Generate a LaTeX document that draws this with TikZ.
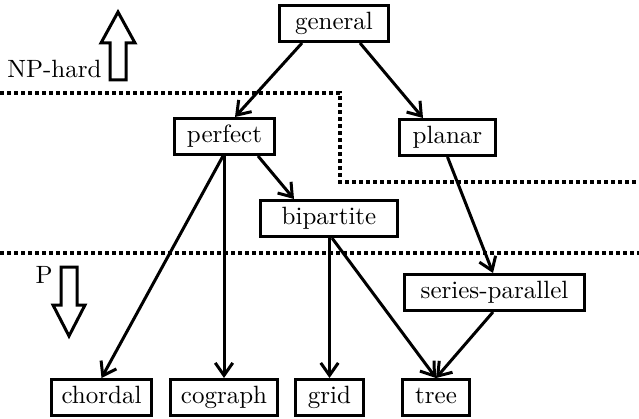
\documentclass[tikz,border=0pt]{standalone}
\usetikzlibrary{arrows.meta,calc}
\begin{document}
\begin{tikzpicture}[x=0.4pt,y=-0.4pt,
  cls/.style={draw,line width=1.2pt,inner xsep=0pt,inner ysep=0pt,
    minimum height=14.4pt,text height=7pt,text depth=2pt},
  edge/.style={line width=1.2pt,-{Straight Barb[length=5pt,width=7pt,line width=1.2pt]}},
  border/.style={line width=1.5pt,dash pattern=on 1.6pt off 1.2pt},
  bigarrow/.style={draw,line width=1.2pt,line join=miter}]
\useasboundingbox (0,0) rectangle (639,419);

% graph classes
\node[cls,minimum width=43.6pt] (general)  at (334,23.5)  {general};
\node[cls,minimum width=40pt]   (perfect)  at (224.5,136.5) {perfect};
\node[cls,minimum width=38.4pt] (planar)   at (447.5,137.5) {planar};
\node[cls,minimum width=54.8pt] (bipartite) at (329,218.5) {bipartite};
\node[cls,minimum width=72pt]   (sp)       at (494.5,292.5) {series-parallel};
\node[cls,minimum width=40pt]   (chordal)  at (101.5,397.5) {chordal};
\node[cls,minimum width=42.8pt] (cograph)  at (224,397.5) {cograph};
\node[cls,minimum width=27.2pt] (grid)     at (329.5,397.5) {grid};
\node[cls,minimum width=26.8pt] (tree)     at (436,397.5) {tree};

% inclusions
\draw[edge] ($(general.south)+(-32,0)$) -- ($(perfect.north)+(10.5,0)$);
\draw[edge] ($(general.south)+(26,0)$) -- ($(planar.north)+(-24.5,0)$);
\draw[edge] ($(perfect.south)+(-1.5,0)$) -- (chordal.north);
\draw[edge] ($(perfect.south)+(-0.5,0)$) -- (cograph.north);
\draw[edge] ($(perfect.south)+(33.5,0)$) -- ($(bipartite.north)+(-35,0)$);
\draw[edge] (planar.south) -- ($(sp.north)+(-1.5,0)$);
\draw[edge] (bipartite.south -| grid.north) -- (grid.north);
\draw[edge] ($(bipartite.south)+(3,0)$) -- (tree.north);
\draw[edge] ($(sp.south)+(-1.5,0)$) -- (tree.north);

% complexity borders
\coordinate (b1) at (0,93);
\coordinate (b2) at (340,93);
\coordinate (b3) at (340,182);
\coordinate (b4) at (639,182);
\draw[border] (b1) -- (b2) -- (b3) -- (b4);
\coordinate (c1) at (0,253);
\coordinate (c2) at (639,253);
\draw[border] (c1) -- (c2);

% hardness indicators
\draw[bigarrow] (110,80) -- (126,80) -- (126,43) -- (135,43) -- (118,12)
  -- (101,43) -- (110,43) -- cycle;
\node[anchor=base east,inner sep=0pt] (nphard) at (102,78) {NP-hard};
\draw[bigarrow] (61,267) -- (77,267) -- (77,305) -- (85,305) -- (69,336)
  -- (53,305) -- (61,305) -- cycle;
\node[anchor=base west,inner sep=0pt] (p) at (35,283) {P};
\end{tikzpicture}
\end{document}
